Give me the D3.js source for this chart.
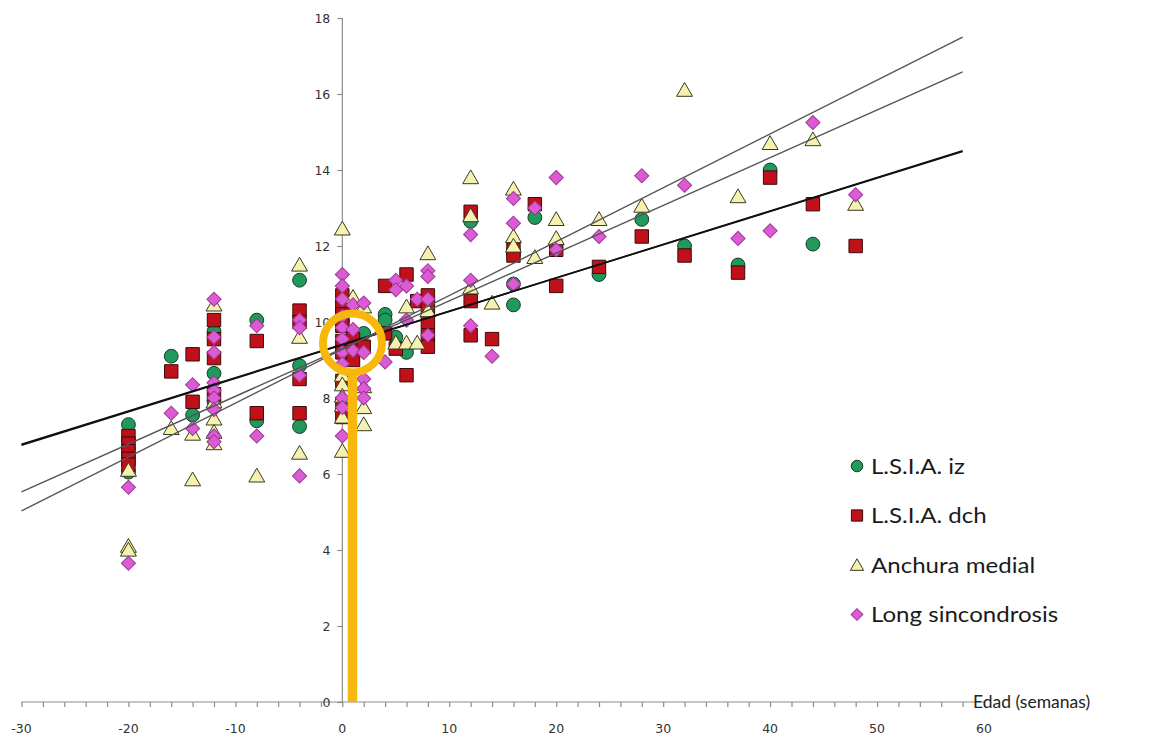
<!DOCTYPE html>
<html><head><meta charset="utf-8">
<script src="https://cdn.jsdelivr.net/npm/d3@7"></script>
<style>
html,body{margin:0;padding:0;background:#fff;}
svg{display:block;}
</style></head>
<body>
<svg id="chart" width="1169" height="745"></svg>
<script>
// ---- data ----
const seriesNames = ["L.S.I.A. iz", "L.S.I.A. dch", "Anchura medial", "Long sincondrosis"];
const izData = [
  [-20,7.3],[-20,6.05],[-16,9.1],[-14,7.55],[-12,9.75],[-12,8.65],[-12,7.9],
  [-8,10.05],[-8,7.4],[-4,11.1],[-4,8.85],[-4,7.25],[0,10.0],[0,9.3],[2,9.7],
  [4,10.2],[4,10.05],[5,9.6],[6,9.2],[12,12.65],[16,11.0],[16,10.45],[18,12.75],
  [24,11.25],[28,12.7],[32,12.0],[37,11.5],[40,14.0],[44,12.05]
];
const dchData = [
  [-20,7.0],[-20,6.8],[-20,6.6],[-20,6.4],[-20,6.25],[-16,8.7],[-14,9.15],[-14,7.9],
  [-12,10.05],[-12,9.55],[-12,9.05],[-12,8.1],[-8,9.5],[-8,7.6],
  [-4,10.3],[-4,10.0],[-4,8.5],[-4,7.6],
  [0,10.7],[0,10.45],[0,10.2],[0,9.9],[0,9.5],[0,9.2],[0,8.45],[0,7.85],[0,7.5],
  [1,9.55],[1,9.0],[2,9.35],[4,10.95],[4,9.7],[5,9.3],[6,11.25],[6,8.6],[7,10.55],
  [8,10.7],[8,10.4],[8,10.0],[8,9.65],[8,9.35],[12,12.9],[12,10.55],[12,9.65],
  [14,9.55],[16,11.9],[16,11.75],[18,13.1],[20,11.9],[20,10.95],[24,11.45],
  [28,12.25],[32,11.75],[37,11.3],[40,13.8],[44,13.1],[48,12.0]
];
const anchuraData = [
  [-20,6.1],[-20,4.1],[-20,4.0],[-16,7.2],[-14,7.05],[-14,5.85],
  [-12,10.45],[-12,7.9],[-12,7.45],[-12,7.1],[-12,6.8],[-8,5.95],
  [-4,11.5],[-4,9.6],[-4,6.55],
  [0,12.45],[0,8.6],[0,8.35],[0,8.05],[0,7.8],[0,7.5],[0,6.6],
  [1,10.65],[2,10.4],[2,8.3],[2,7.75],[2,7.3],[5,9.45],[6,10.4],[6,9.45],[7,9.45],
  [8,11.8],[8,10.3],[12,13.8],[12,12.8],[12,10.9],[14,10.5],[16,13.5],[16,12.25],[16,12.0],
  [18,11.7],[20,12.7],[20,12.2],[24,12.7],[28,13.05],[32,16.1],[37,13.3],[40,14.7],
  [44,14.8],[48,13.1]
];
const sincondrosisData = [
  [-20,5.65],[-20,3.65],[-16,7.6],[-14,8.35],[-14,7.2],
  [-12,10.6],[-12,9.6],[-12,9.2],[-12,8.4],[-12,8.2],[-12,8.0],[-12,7.7],[-12,7.0],[-12,6.85],
  [-8,9.9],[-8,7.0],[-4,10.05],[-4,9.85],[-4,8.6],[-4,5.95],
  [0,11.25],[0,10.95],[0,10.6],[0,10.15],[0,9.85],[0,9.55],[0,9.2],[0,8.9],[0,8.0],[0,7.75],[0,7.0],
  [1,10.45],[1,9.8],[1,9.25],[2,10.5],[2,9.2],[2,8.5],[2,8.25],[2,8.0],
  [4,8.95],[5,11.1],[5,10.85],[6,10.95],[6,10.05],[7,10.6],
  [8,11.35],[8,11.2],[8,10.6],[8,9.65],[12,12.3],[12,11.1],[12,9.9],[14,9.1],
  [16,13.25],[16,12.6],[16,11.0],[18,13.0],[20,13.8],[20,11.9],[24,12.25],
  [28,13.85],[32,13.6],[37,12.2],[40,12.4],[44,15.25],[48,13.35]
];
// trend lines: [intercept, slope], drawn over trendRange
const trendIntercepts = [9.40, 9.41, 9.30, 9.28];
const trendSlopes = [0.0880, 0.0875, 0.1256, 0.1417];
const trendRange = [-30, 58];
// axis ticks
const xTickLabels = [-30,-20,-10,0,10,20,30,40,50,60];
const yTickLabels = [0,2,4,6,8,10,12,14,16,18];
const xDomain = [-30, 60];
const yDomain = [0, 18];
// highlight annotation (age, value)
const highlightPoint = [0.95, 9.45];
const xTitle = "Edad (semanas)";

// ---- drawing ----
const svg = d3.select("#chart");
const x = d3.scaleLinear().domain(xDomain).range([21.5, 984]);
const y = d3.scaleLinear().domain(yDomain).range([702, 18]);

const axisColor = "#8c8c8c";
const labelFont = "'DejaVu Sans', Verdana, sans-serif";

// x axis
const xAxis = d3.axisBottom(x).tickValues(d3.range(-30, 61, 2)).tickSize(5).tickFormat("");
const gx = svg.append("g").attr("transform", `translate(0,${y(0)})`).call(xAxis);
gx.selectAll("path,line").attr("stroke", axisColor).attr("stroke-width", 1.2);
gx.select(".domain").attr("d", `M${x(-30)},0H${x(60)}`);
svg.append("g").selectAll("text").data(xTickLabels).join("text")
  .attr("x", d => x(d)).attr("y", 733).attr("text-anchor", "middle")
  .attr("font-family", labelFont).attr("font-size", 12.5).attr("fill", "#333")
  .text(d => d);

// y axis
const yAxis = d3.axisLeft(y).tickValues(yTickLabels).tickSize(5).tickFormat("");
const gy = svg.append("g").attr("transform", `translate(${x(0)},0)`).call(yAxis);
gy.selectAll("path,line").attr("stroke", axisColor).attr("stroke-width", 1.2);
gy.select(".domain").attr("d", `M0,${y(0)}V${y(18)}`);
svg.append("g").selectAll("text").data(yTickLabels).join("text")
  .attr("x", x(0) - 12).attr("y", d => y(d) + 4.5).attr("text-anchor", "end")
  .attr("font-family", labelFont).attr("font-size", 12.5).attr("fill", "#333")
  .text(d => d);

svg.append("text").attr("x", 973).attr("y", 708)
  .attr("font-family", "Lato, 'Open Sans', sans-serif").attr("font-size", 17.5).attr("fill", "#222")
  .text(xTitle);

// markers
const styles = [
  {sym: d3.symbolCircle, size: 150, rot: 0, fill: "#1f9a5c", stroke: "#1a3a22", dy: 0},
  {sym: d3.symbolSquare, size: 180, rot: 0, fill: "#c0101a", stroke: "#3a0a0a", dy: 0},
  {sym: d3.symbolTriangle, size: 110, rot: 0, fill: "#f5f1b0", stroke: "#3a3a20", dy: 1.5},
  {sym: d3.symbolSquare, size: 100, rot: 45, fill: "#dc5ad4", stroke: "#9a3a96", dy: 0}
];
const allData = [izData, dchData, anchuraData, sincondrosisData];
allData.forEach((data, i) => {
  const st = styles[i];
  svg.append("g").selectAll("path").data(data).join("path")
    .attr("transform", d => `translate(${x(d[0])},${y(d[1]) + st.dy}) rotate(${st.rot})`)
    .attr("d", d3.symbol().type(st.sym).size(st.size))
    .attr("fill", st.fill).attr("stroke", st.stroke).attr("stroke-width", 1);
});

// trend lines
const trendColors = ["#111", "#111", "#555", "#555"];
const trendWidths = [1.6, 1.6, 1.4, 1.4];
trendIntercepts.forEach((a, i) => {
  const b = trendSlopes[i];
  svg.append("line")
    .attr("x1", x(trendRange[0])).attr("y1", y(a + b * trendRange[0]))
    .attr("x2", x(trendRange[1])).attr("y2", y(a + b * trendRange[1]))
    .attr("stroke", trendColors[i]).attr("stroke-width", trendWidths[i]);
});

// highlight
const orange = "#f8b70c";
const cx = x(highlightPoint[0]), cy = y(highlightPoint[1]);
svg.append("circle").attr("cx", cx).attr("cy", cy).attr("r", 29.5)
  .attr("fill", "none").attr("stroke", orange).attr("stroke-width", 8);
svg.append("line").attr("x1", cx).attr("x2", cx).attr("y1", cy + 33).attr("y2", y(0))
  .attr("stroke", orange).attr("stroke-width", 9.5);

// legend
const legend = svg.append("g");
seriesNames.forEach((name, i) => {
  const ly = 466 + i * 49.5;
  const st = styles[i];
  legend.append("path").attr("transform", `translate(857,${ly + st.dy}) rotate(${st.rot})`)
    .attr("d", d3.symbol().type(st.sym).size(st.size * 0.7))
    .attr("fill", st.fill).attr("stroke", st.stroke).attr("stroke-width", 1);
  legend.append("text").attr("transform", `translate(871,${ly + 7.5}) scale(1.12,1)`)
    .attr("font-family", "Lato, 'Open Sans', sans-serif").attr("font-size", 21.5).attr("fill", "#1a1a1a")
    .text(name);
});
</script>
</body></html>
